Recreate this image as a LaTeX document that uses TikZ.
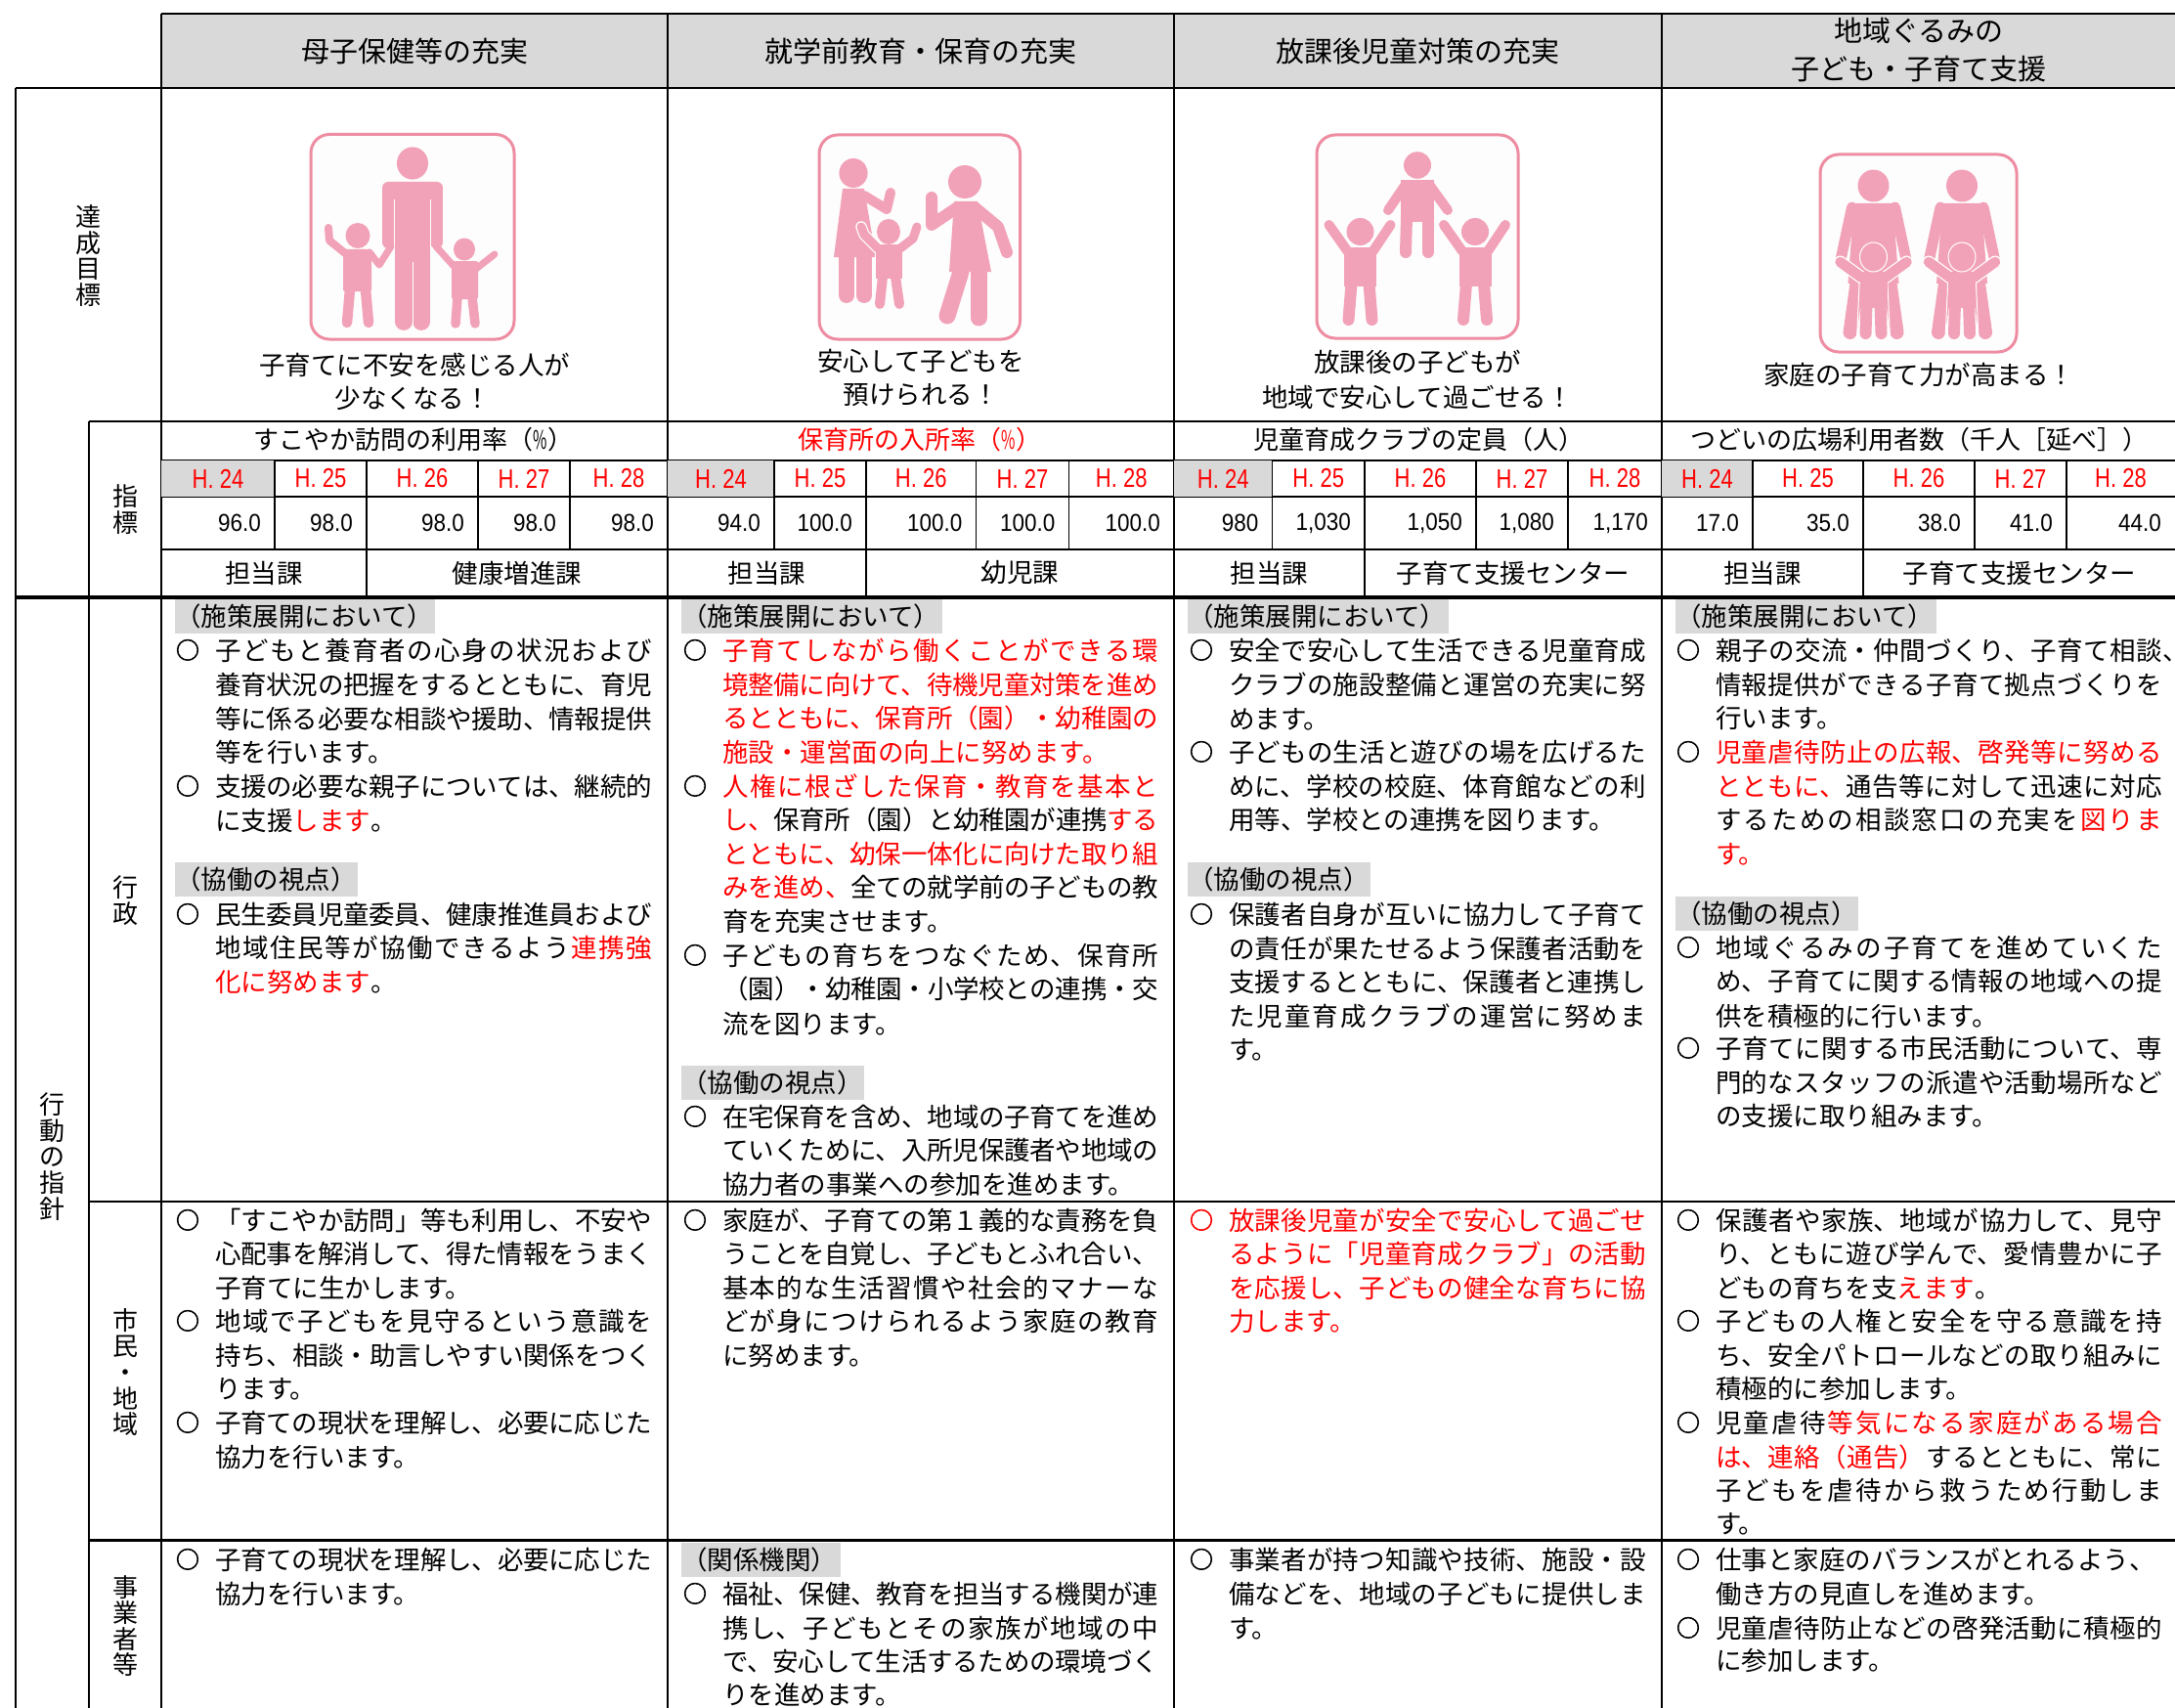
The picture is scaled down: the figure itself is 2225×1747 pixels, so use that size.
\documentclass[tikz,border=0pt]{standalone}
\usepackage{fontspec}
\setmainfont{Noto Sans CJK JP}
\newfontfamily\valf{Liberation Sans}[FakeStretch=0.9]
\newfontfamily\yrf{Liberation Sans}[FakeStretch=0.8]
\newfontfamily\bulf{Noto Sans CJK JP}[FakeBold=2.5]
\definecolor{figpink}{HTML}{F2A2B8}
\definecolor{boxpink}{HTML}{EE8CA2}
\definecolor{hgray}{HTML}{D9D9D9}
\definecolor{jred}{HTML}{FF0000}
\definecolor{iconbg}{HTML}{FDFDFD}
\XeTeXlinebreaklocale "ja"
\XeTeXlinebreakskip=0pt plus 1fil minus 3pt
\tolerance=10000 \hbadness=10000 \hfuzz=20pt
\newcount\nn
\newcommand\nx{\global\advance\nn by 1\relax}
\newcommand\R[1]{\textcolor{jred}{#1}}
\newcommand\G{\hskip 0pt plus 1fil minus 3pt\relax}
\newcommand\pct{\scalebox{0.6}[1]{\%}}
\def\LX{220}\def\LW{447}\def\BX{192}\def\GX{179}
% body lines
\newcommand\jl[2]{\nx\node[txt,anchor=base west] (n\the\nn) at ({\LX},{#1+10}) {\parbox[b]{\LW pt}{\noindent\parfillskip=0pt\relax #2\par}};}
\newcommand\el[2]{\nx\node[txt,anchor=base west] (n\the\nn) at ({\LX},{#1+10}) {#2};}
\newcommand\bu[1]{\nx\node[bul,anchor=base] (n\the\nn) at ({\BX},{#1+9}) {○};}
\newcommand\rbu[1]{\nx\node[bul,anchor=base,text=jred] (n\the\nn) at ({\BX},{#1+9}) {○};}
\newcommand\lab[3]{\fill[hgray] ({\GX},{#1-17.5}) rectangle ({\GX+#3},{#1+17.5});
  \nx\node[txt,anchor=base west] (n\the\nn) at ({\GX},{#1+10}) {#2};}
% indicator block: #1 x0, #2..#5 column lines, #6 x1
\newcommand\yrrow[6]{%
  \fill[hgray] (#1,471) rectangle (#2,508);
  \foreach \xa/\xb/\yy in {#1/#2/24,#2/#3/25,#3/#4/26,#4/#5/27,#5/#6/28}
    {\nx\node[yr] (n\the\nn) at ({(\xa+\xb)/2},489.5) {H. \yy};}
  \draw[thin line] (#2,471) -- (#2,562) (#4,471) -- (#4,562) (#5,471) -- (#5,562);
  \draw[thin line] (#3,471) -- (#3,611);
}
\tikzset{
  txt/.style={inner sep=0pt,outer sep=0pt,font=\fontsize{26.5}{34}\selectfont,text=black},
  bul/.style={inner sep=0pt,outer sep=0pt,font=\bulf\fontsize{24}{30}\selectfont,text=black},
  head/.style={inner sep=0pt,align=center,font=\fontsize{29}{39}\selectfont},
  goal/.style={inner sep=0pt,font=\fontsize{26.5}{34}\selectfont},
  vlab/.style={inner sep=0pt,align=center,font=\fontsize{26}{26.6}\selectfont},
  ctr/.style={inner sep=0pt,font=\fontsize{26.5}{34}\selectfont},
  titl/.style={inner sep=0pt,font=\fontsize{26}{34}\selectfont},
  yr/.style={inner sep=0pt,text=jred,font=\yrf\fontsize{27.5}{30}\selectfont},
  val/.style={inner sep=0pt,anchor=east,font=\valf\fontsize{25}{30}\selectfont},
  main line/.style={draw=black,line width=2.7pt},
  thin line/.style={draw=black,line width=1.9pt},
  thick line/.style={draw=black,line width=3.6pt},
  iconbox/.style={draw=boxpink,line width=3pt,fill=iconbg,rounded corners=19pt},
  fig/.style={fill=figpink,draw=none},
  limb/.style={draw=figpink,line cap=round,line join=round},
  slit/.style={draw=white,line width=0.8pt},
}
\begin{document}
\begin{tikzpicture}[x=1pt,y=-1pt]
\useasboundingbox (0,0) rectangle (2225,1747);
\fill[white] (0,0) rectangle (2225,1747);
\fill[hgray] (165,14) rectangle (2225,90);
% ===== grid =====
\draw[main line] (165,14) -- (2225,14);
\draw[main line] (16,90) -- (2225,90);
\draw[main line] (91,431) -- (2225,431);
\draw[thin line] (165,471) -- (2225,471);
\draw[main line] (165,508) -- (2225,508);
\draw[thin line] (165,562) -- (2225,562);
\draw[thick line] (16,611) -- (2225,611);
\draw[main line] (91,1229) -- (2225,1229);
\draw[main line] (91,1575.5) -- (2225,1575.5);
\draw[main line] (16,90) -- (16,1747);
\draw[main line] (91,431) -- (91,1747);
\foreach \x in {165,683,1201,1700} \draw[main line] (\x,14) -- (\x,1747);
% ===== headers =====
\node[head] (h1) at (424,52) {母子保健等の充実};
\node[head] (h2) at (942,52) {就学前教育・保育の充実};
\node[head] (h3) at (1450,52) {放課後児童対策の充実};
\node[head] (h4) at (1963,51.5) {地域ぐるみの\\子ども・子育て支援};
% ===== side labels =====
\node[vlab] (v1) at (90.5,261.5) {達\\成\\目\\標};
\node[vlab] (v2) at (128,521) {指\\標};
\node[vlab] (v3) at (53.5,1183) {行\\動\\の\\指\\針};
\node[vlab] (v4) at (128,921) {行\\政};
\node[vlab] (v5) at (128,1403.5) {市\\民\\・\\地\\域};
\node[vlab] (v6) at (128,1663) {事\\業\\者\\等};
% ===== icon 1 =====
\draw[iconbox] (318,137.5) rectangle (526,347);
\fill[fig] (422,167) ellipse (16 and 16.6);
\fill[fig,rounded corners=6pt] (391,200) -- (391,186) -- (453,186) -- (453,200) -- cycle;
\fill[fig] (404,190) rectangle (440,275);
\draw[limb,line width=12.5pt] (397.5,196) -- (397.5,248);
\draw[limb,line width=12.5pt] (446.5,196) -- (446.5,248);
\draw[limb,line width=17.8pt] (413,270) -- (413,329);
\draw[limb,line width=17.8pt] (431,270) -- (431,329);
\draw[slit] (422,268) -- (422,338);
\draw[slit] (403.5,204) -- (403.5,255);
\draw[slit] (440.5,204) -- (440.5,255);
\fill[fig] (366,241) ellipse (12.5 and 13);
\fill[fig,rounded corners=2pt] (351,255) rectangle (380,298);
\draw[limb,line width=10.5pt] (358,296) -- (355,330);
\draw[limb,line width=10.5pt] (374,296) -- (377,330);
\draw[limb,line width=8pt] (353,259) -- (337,246) -- (336,233);
\draw[limb,line width=7pt] (378,258) -- (388,271) -- (400,252);
\fill[fig] (475,255) ellipse (11 and 11.5);
\fill[fig,rounded corners=2pt] (462,267) rectangle (489,306);
\draw[limb,line width=9.5pt] (468,304) -- (466,331);
\draw[limb,line width=9.5pt] (483,304) -- (486,331);
\draw[limb,line width=7pt] (487,275) -- (506,260);
\draw[limb,line width=7pt] (464,272) -- (446,252);
% ===== icon 2 =====
\draw[iconbox] (838,138) rectangle (1043.5,347);
\fill[fig] (873,177) ellipse (14.6 and 15);
\fill[fig] (862,193) -- (884,193) -- (896,263) -- (853,263) -- cycle;
\draw[limb,line width=16pt] (866,262) -- (866,302);
\draw[limb,line width=16pt] (884,262) -- (884,302);
\draw[limb,line width=10pt] (884,200) -- (907,214) -- (911,197);
\draw[limb,line width=11.5pt,draw=white] (898,254) -- (884,240) -- (881,232);
\fill[fig] (909,237) ellipse (12 and 13);
\draw[draw=white,line width=1pt] (895.5,250) -- (895.5,300);
\fill[fig] (896,250) rectangle (923,285);
\draw[limb,line width=10pt] (903,283) -- (900,311);
\draw[limb,line width=10pt] (916,283) -- (920,311);
\draw[limb,line width=9pt] (898,254) -- (884,240) -- (881,232);
\draw[limb,line width=9pt] (921,254) -- (934,244) -- (938,232);
\fill[fig] (987,186) ellipse (17 and 17);
\fill[fig] (976,206) -- (1000,206) -- (1014,278) -- (971,278) -- cycle;
\draw[limb,line width=12pt] (978,213) -- (953,230) -- (953,202);
\draw[limb,line width=12pt] (997,212) -- (1021,232) -- (1030,258);
\draw[limb,line width=17pt] (983,278) -- (969,323);
\draw[limb,line width=17pt] (1001,278) -- (1001,325);
% ===== icon 3 =====
\draw[iconbox] (1347,138) rectangle (1553,346);
\fill[fig] (1450,169) ellipse (14 and 13.8);
\fill[fig] (1433,184) rectangle (1467,227);
\draw[limb,line width=10pt] (1437,190) -- (1420,215);
\draw[limb,line width=10pt] (1463,190) -- (1481,215);
\draw[limb,line width=12pt] (1439,222) -- (1438,258);
\draw[limb,line width=12pt] (1461,222) -- (1461,258);
\foreach \c in {1391.5,1509} {
  \fill[fig] (\c,237) ellipse (14 and 14);
  \fill[fig] ({\c-16.5},253) rectangle ({\c+16.5},293);
  \draw[limb,line width=10pt] ({\c-13},257) -- ({\c-32},230);
  \draw[limb,line width=10pt] ({\c+13},257) -- ({\c+31},230);
  \draw[limb,line width=12pt] ({\c-9},290) -- ({\c-12},327);
  \draw[limb,line width=12pt] ({\c+9},290) -- ({\c+12},327);
}
% ===== icon 4 =====
\draw[iconbox] (1862,158) rectangle (2063,360);
\foreach \c in {1916.5,2007} {
  \fill[fig] (\c,190) ellipse (16 and 16.5);
  \fill[fig] ({\c-20},208) -- ({\c+20},208) -- ({\c+26},290) -- ({\c-26},290) -- cycle;
  \draw[limb,line width=11pt] ({\c-22},212) -- ({\c-34},268);
  \draw[limb,line width=11pt] ({\c+22},212) -- ({\c+34},268);
  \draw[limb,line width=14pt] ({\c-17},290) -- ({\c-24},340);
  \draw[limb,line width=14pt] ({\c+17},290) -- ({\c+24},340);
  \draw[white,line width=1pt] ({\c-14},280) -- ({\c-17},347) ({\c+14},280) -- ({\c+17},347);
  \draw[limb,line width=13pt,draw=white] ({\c-34},268) -- ({\c-12},284) ({\c+34},268) -- ({\c+12},284);
  \draw[limb,line width=10.5pt] ({\c-34},268) -- ({\c-12},284);
  \draw[limb,line width=10.5pt] ({\c+34},268) -- ({\c+12},284);
  \fill[fig] ({\c-14},278) rectangle ({\c+14},315);
  \draw[limb,line width=12pt] ({\c-7},310) -- ({\c-8},341);
  \draw[limb,line width=12pt] ({\c+7},310) -- ({\c+8},341);
  \draw[white,line width=1pt,fill=figpink] (\c,263) ellipse (14 and 15);
  \fill[fig] (\c,263) ellipse (11.5 and 13);
}
% ===== goals =====
\node[goal] (g1a) at (424,373.5) {子育てに不安を感じる人が};
\node[goal] (g1b) at (422,407) {少なくなる！};
\node[goal] (g2a) at (942,369) {安心して子どもを};
\node[goal] (g2b) at (942,404) {預けられる！};
\node[goal] (g3a) at (1450,370) {放課後の子どもが};
\node[goal] (g3b) at (1450,406) {地域で安心して過ごせる！};
\node[goal] (g4a) at (1963,383) {家庭の子育て力が高まる！};
% ===== indicators =====
\node[titl] (t1) at (423,450) {すこやか訪問の利用率（\pct）};
\node[titl,text=jred] (t2) at (941,450) {保育所の入所率（\pct）};
\node[titl] (t3) at (1451,450) {児童育成クラブの定員（人）};
\node[titl] (t4) at (1963,450) {つどいの広場利用者数（千人［延べ］）};
\yrrow{165}{281}{375}{489}{583}{683}
\yrrow{683}{792}{886}{998.5}{1093.5}{1201}
\yrrow{1201}{1301.5}{1396}{1510}{1604}{1700}
\yrrow{1700}{1793}{1906}{2020}{2114}{2225}
\foreach \x/\v in {281/96.0,375/98.0,489/98.0,583/98.0,683/98.0,
  792/94.0,886/100.0,998.5/100.0,1093.5/100.0,1201/100.0,
  1301.5/980,1396/{1,030},1510/{1,050},1604/{1,080},1700/{1,170},
  1793/17.0,1906/35.0,2020/38.0,2114/41.0,2225/44.0}
  {\nx\node[val] (n\the\nn) at ({\x-14},535) {\v};}
\node[ctr] (a1) at (270,586) {担当課};
\node[ctr] (b1) at (529,586) {健康増進課};
\node[ctr] (a2) at (784.5,586) {担当課};
\node[ctr] (b2) at (1043.5,586) {幼児課};
\node[ctr] (a3) at (1298.5,586) {担当課};
\node[ctr] (b3) at (1548,586) {子育て支援センター};
\node[ctr] (a4) at (1803,586) {担当課};
\node[ctr] (b4) at (2066,586) {子育て支援センター};
% ===== column 1 =====
\def\LX{220}\def\LW{447}\def\BX{192}\def\GX{179}
\lab{630.5}{（施策展開において）}{266}
\bu{665}\jl{665}{子どもと養育者の心身の状況および}
\jl{700}{養育状況の把握をするとともに、育児}
\jl{735}{等に係る必要な相談や援助、情報提供}
\el{769}{等を行います。}
\bu{804}\jl{804}{支援の必要な親子については、継続的}
\el{839}{に支援\R{します}。}
\lab{899.5}{（協働の視点）}{187}
\bu{935}\jl{935}{民生委員児童委員、健康推進員および}
\jl{969}{地域住民等が協働できるよう\G\R{連携強}}
\el{1004}{\R{化に努めます}。}
\bu{1248}\jl{1248}{「すこやか訪問」等も利用し、不安や}
\jl{1282}{心配事を解消して、得た情報をうまく}
\el{1317}{子育てに生かします。}
\bu{1351}\jl{1351}{地域で子どもを見守るという意識を}
\jl{1386}{持ち、相談・助言しやすい関係をつく}
\el{1420}{ります。}
\bu{1455}\jl{1455}{子育ての現状を理解し、必要に応じた}
\el{1490}{協力を行います。}
\bu{1595}\jl{1595}{子育ての現状を理解し、必要に応じた}
\el{1630}{協力を行います。}
% ===== column 2 =====
\def\LX{739}\def\LW{446}\def\BX{711}\def\GX{697}
\lab{630.5}{（施策展開において）}{267}
\bu{665}\jl{665}{\R{子育てしながら働くことができる環}}
\jl{700}{\R{境整備に向けて、待機児童対策を進め}}
\jl{734.5}{\R{るとともに、保育所（園）・幼稚園の}}
\el{769}{\R{施設・運営面の向上に努めます。}}
\bu{804}\jl{804}{\R{人権に根ざした保育・教育を基本と}}
\jl{838}{\R{し、}\G 保育所（園）と幼稚園が連携\G\R{する}}
\jl{873}{\R{とともに、幼保一体化に向けた取り組}}
\jl{907}{\R{みを進め、}\G 全ての就学前の子どもの教}
\el{942}{育を充実させます。}
\bu{977}\jl{977}{子どもの育ちをつなぐため、保育所}
\jl{1011.5}{（園）\G ・\G 幼稚園\G ・\G 小学校との連携\G ・\G 交}
\el{1047}{流を図ります。}
\lab{1107}{（協働の視点）}{187}
\bu{1142}\jl{1142}{在宅保育を含め、地域の子育てを進め}
\jl{1176}{ていくために、入所児保護者や地域の}
\el{1211}{協力者の事業への参加を進めます。}
\bu{1248}\jl{1248}{家庭が、子育ての第１義的な責務を負}
\jl{1282}{うことを自覚し、子どもとふれ合い、}
\jl{1317}{基本的な生活習慣や社会的マナーな}
\jl{1351}{どが身につけられるよう家庭の教育}
\el{1386}{に努めます。}
\lab{1595}{（関係機関）}{163}
\bu{1630}\jl{1630}{福祉、保健、教育を担当する機関が連}
\jl{1665}{携し、子どもとその家族が地域の中}
\jl{1699}{で、安心して生活するための環境づく}
\el{1733}{りを進めます。}
% ===== column 3 =====
\def\LX{1257}\def\LW{427}\def\BX{1229}\def\GX{1215}
\lab{630.5}{（施策展開において）}{267}
\bu{665}\jl{665}{安全で安心して生活できる児童育成}
\jl{700}{クラブの施設整備と運営の充実に努}
\el{735}{めます。}
\bu{769}\jl{769}{子どもの生活と遊びの場を広げるた}
\jl{804}{めに、学校の校庭、体育館などの利}
\el{838}{用等、学校との連携を図ります。}
\lab{899.5}{（協働の視点）}{187}
\bu{935}\jl{935}{保護者自身が互いに協力して子育て}
\jl{970}{の責任が果たせるよう保護者活動を}
\jl{1004}{支援するとともに、保護者と連携し}
\jl{1039}{た児童育成クラブの運営に努めま}
\el{1073}{す。}
\rbu{1248}\jl{1248}{\R{放課後児童が安全で安心して過ごせ}}
\jl{1282}{\R{るように「児童育成クラブ」の活動}}
\jl{1317}{\R{を応援し、子どもの健全な育ちに協}}
\el{1351}{\R{力します。}}
\bu{1595}\jl{1595}{事業者が持つ知識や技術、施設・設}
\jl{1630}{備などを、地域の子どもに提供しま}
\el{1665}{す。}
% ===== column 4 =====
\def\LX{1755}\def\LW{457}\def\BX{1727}\def\GX{1714}
\lab{630.5}{（施策展開において）}{267}
\bu{665}\jl{665}{親子の交流・仲間づくり、子育て相談\rlap{、}}
\jl{700}{情報提供ができる子育て拠点づくりを}
\el{734.5}{行います。}
\bu{769}\jl{769}{\R{児童虐待防止の広報、啓発等に努める}}
\jl{804}{\R{とともに、}\G 通告等に対して迅速に対応}
\jl{838}{するための相談窓口の充実を\G\R{図りま}}
\el{873}{\R{す。}}
\lab{934}{（協働の視点）}{187}
\bu{969}\jl{969}{地域ぐるみの子育てを進めていくた}
\jl{1003}{め、子育てに関する情報の地域への提}
\el{1039}{供を積極的に行います。}
\bu{1072}\jl{1072}{子育てに関する市民活動について、専}
\jl{1107}{門的なスタッフの派遣や活動場所など}
\el{1141.5}{の支援に取り組みます。}
\bu{1248}\jl{1248}{保護者や家族、地域が協力して、見守}
\jl{1282}{り、ともに遊び学んで、愛情豊かに子}
\el{1317}{どもの育ちを支\R{えます}。}
\bu{1351}\jl{1351}{子どもの人権と安全を守る意識を持}
\jl{1386}{ち、安全パトロールなどの取り組みに}
\el{1420}{積極的に参加します。}
\bu{1455}\jl{1455}{児童虐待\G\R{等気になる家庭がある場合}}
\jl{1490}{\R{は、連絡（通告）}\G するとともに、常に}
\jl{1524}{子どもを虐待から救うため行動しま}
\el{1558}{す。}
\bu{1595}\el{1595}{仕事と家庭のバランスがとれるよう、}
\el{1630}{働き方の見直しを進めます。}
\bu{1665}\jl{1665}{児童虐待防止などの啓発活動に積極的}
\el{1698}{に参加します。}
\end{tikzpicture}
\end{document}
